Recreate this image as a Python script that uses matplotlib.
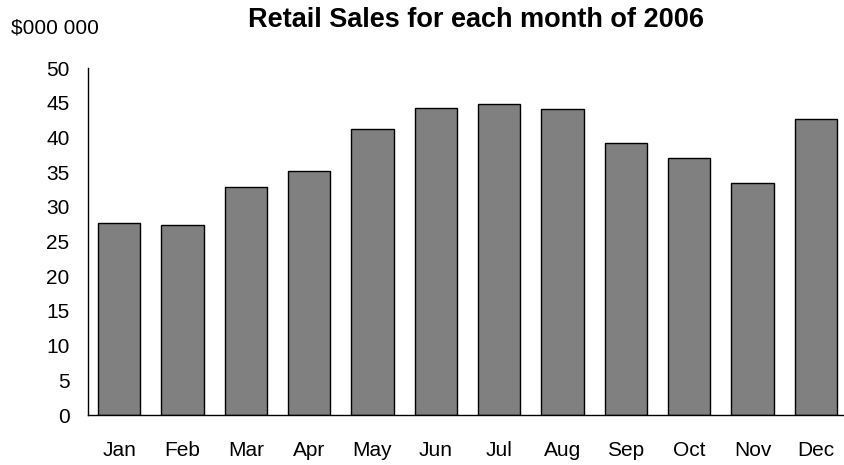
import numpy as np
import matplotlib.pyplot as plt

plt.rcParams['font.family'] = ['Liberation Sans', 'DejaVu Sans']

months = ["Jan", "Feb", "Mar", "Apr", "May", "Jun",
          "Jul", "Aug", "Sep", "Oct", "Nov", "Dec"]
sales = [27.7, 27.4, 32.9, 35.2, 41.2, 44.2, 44.8, 44.1, 39.2, 37.0, 33.5, 42.7]
yticks = np.arange(0, 55, 5)

fig = plt.figure(figsize=(8.44, 4.65), dpi=100)
ax = fig.add_axes([87.5 / 844, 50 / 465, 760 / 844, 347 / 465])

x = np.arange(len(months))
ax.bar(x, sales, width=0.67, color="#808080", edgecolor="black", linewidth=1)

ax.set_xlim(-0.5, 11.5)
ax.set_ylim(0, 50)
ax.set_yticks(yticks)
ax.set_xticks(x)
ax.set_xticklabels(months)
ax.tick_params(axis="both", length=0, labelsize=15)
ax.tick_params(axis="x", pad=19)
ax.tick_params(axis="y", pad=13)

for s in ["top", "right"]:
    ax.spines[s].set_visible(False)
ax.spines["left"].set_linewidth(1)
ax.spines["bottom"].set_linewidth(1)

fig.text(0.564, 0.958, "Retail Sales for each month of 2006",
         ha="center", va="center", fontsize=19.5, fontweight="bold")
fig.text(0.013, 0.94, "$000 000", ha="left", va="center", fontsize=15)

fig.savefig("out.png", dpi=100)
